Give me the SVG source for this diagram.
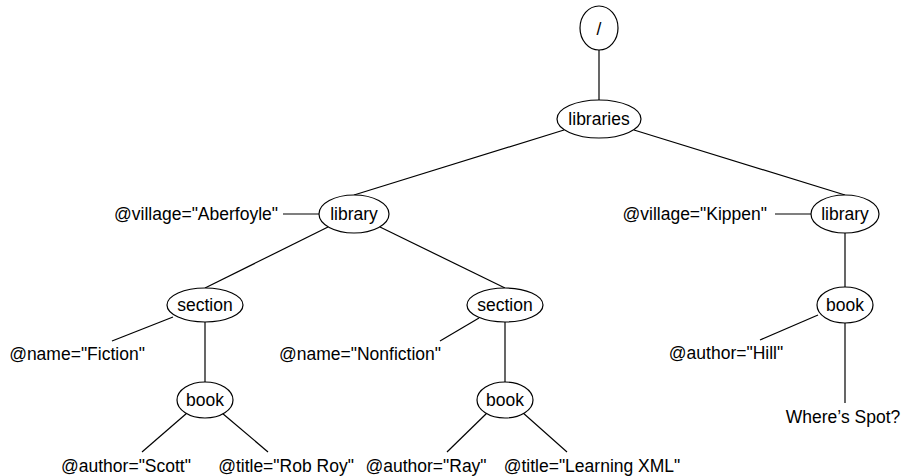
<svg xmlns="http://www.w3.org/2000/svg" width="902" height="476" viewBox="0 0 902 476">
<style>
  .n ellipse { fill: #fff; stroke: #000; stroke-width: 1.2; }
  text { font-family: "Liberation Sans", Arial, sans-serif; font-size: 17.5px; fill: #000; }
  .n text, .c { text-anchor: middle; }
  #edges line { stroke: #000; stroke-width: 1.2; }
</style>
<rect width="902" height="476" fill="#fff"/>
<g id="edges">
  <line x1="599" y1="50" x2="599" y2="100"/>
  <line x1="564" y1="130" x2="354" y2="195"/>
  <line x1="634" y1="130" x2="845" y2="195"/>
  <line x1="283" y1="214" x2="319" y2="214"/>
  <line x1="328" y1="227" x2="205" y2="288"/>
  <line x1="380" y1="227" x2="505" y2="288"/>
  <line x1="775" y1="214" x2="811" y2="214"/>
  <line x1="845" y1="233" x2="845" y2="287"/>
  <line x1="173" y1="317" x2="112" y2="341"/>
  <line x1="205" y1="322" x2="205" y2="382"/>
  <line x1="479" y1="318" x2="440" y2="341"/>
  <line x1="505" y1="322" x2="505" y2="382"/>
  <line x1="187" y1="413" x2="142" y2="452"/>
  <line x1="222" y1="413" x2="268" y2="452"/>
  <line x1="488" y1="412" x2="447" y2="452"/>
  <line x1="522" y1="412" x2="567" y2="452"/>
  <line x1="818" y1="315" x2="760" y2="340"/>
  <line x1="845" y1="323" x2="845" y2="403"/>
</g>
<g id="root" class="n"><ellipse cx="599" cy="28" rx="19" ry="22"/><text x="599" y="35">/</text></g>
<g id="libraries" class="n"><ellipse cx="599" cy="119" rx="42" ry="19"/><text x="599" y="125">libraries</text></g>
<g id="library1" class="n"><ellipse cx="354" cy="214" rx="35" ry="19"/><text x="354" y="220">library</text></g>
<g id="library2" class="n"><ellipse cx="845" cy="214" rx="34" ry="19"/><text x="845" y="220">library</text></g>
<g id="section1" class="n"><ellipse cx="205" cy="305" rx="38" ry="17"/><text x="205" y="311">section</text></g>
<g id="section2" class="n"><ellipse cx="505" cy="305" rx="38" ry="17"/><text x="505" y="311">section</text></g>
<g id="book1" class="n"><ellipse cx="205" cy="400" rx="28" ry="18"/><text x="205" y="406">book</text></g>
<g id="book2" class="n"><ellipse cx="505" cy="400" rx="28" ry="18"/><text x="505" y="406">book</text></g>
<g id="book3" class="n"><ellipse cx="845" cy="305" rx="28" ry="18"/><text x="845" y="311">book</text></g>
<g id="attr-village1"><text x="278" y="220" text-anchor="end">@village="Aberfoyle"</text></g>
<g id="attr-village2"><text x="767" y="220" text-anchor="end">@village="Kippen"</text></g>
<g id="attr-name1"><text class="c" x="77" y="360">@name="Fiction"</text></g>
<g id="attr-name2"><text class="c" x="360" y="360">@name="Nonfiction"</text></g>
<g id="attr-author3"><text class="c" x="726" y="359">@author="Hill"</text></g>
<g id="text-spot"><text class="c" x="843" y="423">Where’s Spot?</text></g>
<g id="attr-author1"><text class="c" x="126" y="472">@author="Scott"</text></g>
<g id="attr-title1"><text class="c" x="286" y="472">@title="Rob Roy"</text></g>
<g id="attr-author2"><text class="c" x="426" y="472">@author="Ray"</text></g>
<g id="attr-title2"><text class="c" x="592" y="472">@title="Learning XML"</text></g>
</svg>
